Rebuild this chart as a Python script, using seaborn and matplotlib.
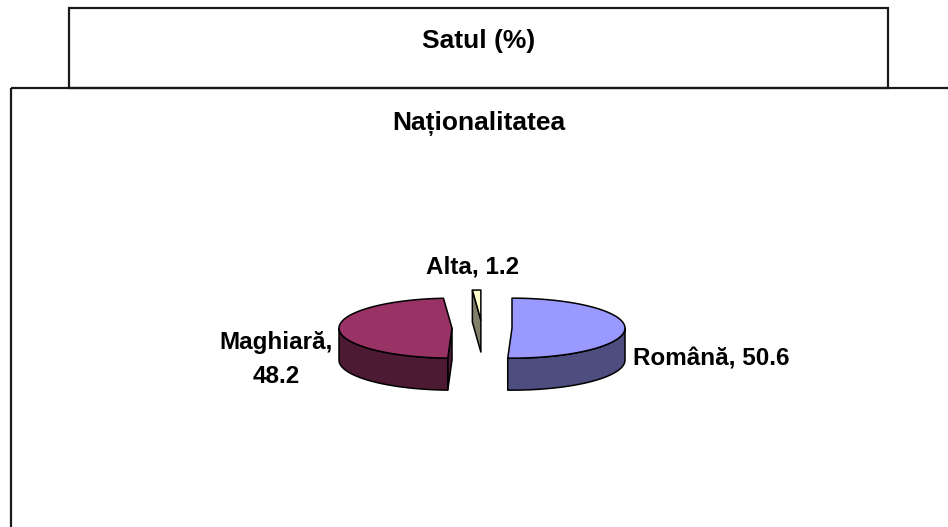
import numpy as np
import matplotlib
matplotlib.use("Agg")
import matplotlib.pyplot as plt
import seaborn as sns
from matplotlib.patches import Polygon, Rectangle

# data
categories = ["Română", "Maghiară", "Alta"]
values = [50.6, 48.2, 1.2]
top_colors = ["#9999FF", "#993366", "#FFFFCC"]
side_colors = ["#4D4D80", "#4D1A33", "#80806A"]
box_title = "Satul (%)"
chart_title = "Naționalitatea"

sns.set_style("white")
plt.rcParams['font.family'] = ['Liberation Sans', 'DejaVu Sans']
plt.rcParams['text.color'] = 'black'

W, H = 948, 527
fig = plt.figure(figsize=(W / 100, H / 100), dpi=100)
ax = fig.add_axes([0, 0, 1, 1])
ax.set_xlim(0, W)
ax.set_ylim(H, 0)
ax.axis('off')

# frames
ax.add_patch(Rectangle((69, 8), 819, 80, fill=False, lw=1.6, ec='#1a1a1a'))
ax.add_patch(Rectangle((11, 88), 1000, 600, fill=False, lw=1.6, ec='#1a1a1a'))
ax.text(479, 48, box_title, ha='center', va='baseline', fontsize=19, fontweight='bold')
ax.text(479, 130, chart_title, ha='center', va='baseline', fontsize=19, fontweight='bold')

# 3d exploded pie, angles clockwise from 12 o'clock
cx, cy = 482, 328
rx, ry, depth, explode = 113, 30, 32, 30

spans = np.array(values) / sum(values) * 360
starts = np.concatenate([[0], np.cumsum(spans)[:-1]])
ends = starts + spans


def arc(ox, oy, a, b, n=80, dz=0):
    t = np.radians(np.linspace(a, b, n))
    return list(zip(ox + rx * np.sin(t), oy - ry * np.cos(t) + dz))


mids = (starts + ends) / 2
order = np.argsort(-np.cos(np.radians(mids)))
for i in order:
    a, b, m = starts[i], ends[i], mids[i]
    mr = np.radians(m)
    ox = cx + explode * np.sin(mr)
    oy = cy - explode * (ry / rx) * np.cos(mr)
    kw = dict(ec='black', lw=1.1, joinstyle='round')

    # radial cut faces
    for ang, vis in ((a, np.sin(np.radians(a)) < -1e-9), (b, np.sin(np.radians(b)) > 1e-9)):
        if vis:
            ex, ey = arc(ox, oy, ang, ang, n=1)[0]
            ax.add_patch(Polygon([(ox, oy), (ex, ey), (ex, ey + depth), (ox, oy + depth)],
                                 fc=side_colors[i], **kw))
    # outer wall (front half only)
    lo, hi = max(a, 90), min(b, 270)
    if hi > lo:
        wall = arc(ox, oy, lo, hi) + arc(ox, oy, hi, lo, dz=depth)
        ax.add_patch(Polygon(wall, fc=side_colors[i], **kw))
    # top face
    ax.add_patch(Polygon([(ox, oy)] + arc(ox, oy, a, b), fc=top_colors[i], **kw))

    # label
    ex, ey = arc(ox, oy, m, m, n=1)[0]
    s = np.sin(mr)
    if s > 0.5:
        ax.text(ex + 8, ey + 37, f"{categories[i]}, {values[i]}", ha='left', va='baseline',
                fontsize=17.5, fontweight='bold')
    elif s < -0.5:
        ax.text(ex - 6, ey + 54, f"{categories[i]},\n{values[i]}", ha='right', va='baseline',
                multialignment='center', linespacing=1.6, fontsize=17.5, fontweight='bold')
    else:
        ax.text(ex - 4, ey - 17, f"{categories[i]}, {values[i]}", ha='center', va='baseline',
                fontsize=17.5, fontweight='bold')

fig.savefig("out.png", dpi=100)
